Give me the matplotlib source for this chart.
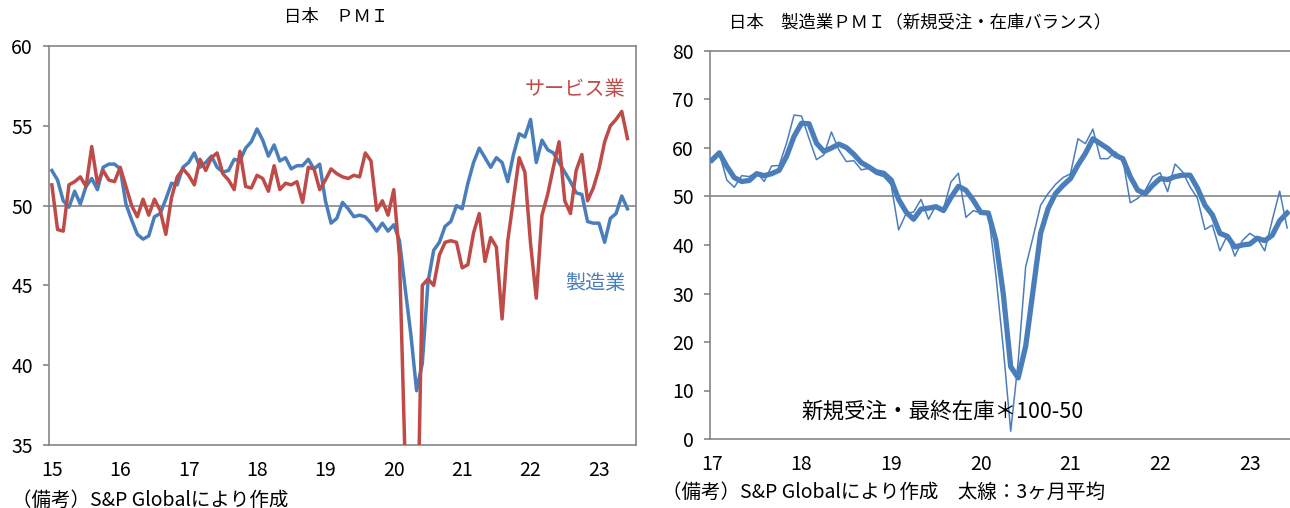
import numpy as np
import matplotlib.pyplot as plt

plt.rcParams['font.family'] = ['Noto Sans CJK JP', 'DejaVu Sans']

# 日本 PMI (2015/1 - 2023/6, monthly)
mfg_pmi = [
    52.2, 51.6, 50.3, 49.9, 50.9, 50.1, 51.2, 51.7, 51.0, 52.4, 52.6, 52.6,
    52.3, 50.1, 49.1, 48.2, 47.9, 48.1, 49.3, 49.5, 50.4, 51.4, 51.3, 52.4,
    52.7, 53.3, 52.4, 52.7, 53.1, 52.4, 52.1, 52.2, 52.9, 52.8, 53.6, 54.0,
    54.8, 54.1, 53.1, 53.8, 52.8, 53.0, 52.3, 52.5, 52.5, 52.9, 52.3, 52.6,
    50.3, 48.9, 49.2, 50.2, 49.8, 49.3, 49.4, 49.3, 48.9, 48.4, 48.9, 48.4,
    48.8, 47.8, 44.8, 41.9, 38.4, 40.1, 45.2, 47.2, 47.7, 48.7, 49.0, 50.0,
    49.8, 51.4, 52.7, 53.6, 53.0, 52.4, 53.0, 52.7, 51.5, 53.2, 54.5, 54.3,
    55.4, 52.7, 54.1, 53.5, 53.3, 52.7, 52.1, 51.5, 50.8, 50.7, 49.0, 48.9,
    48.9, 47.7, 49.2, 49.5, 50.6, 49.8,
]
svc_pmi = [
    51.3, 48.5, 48.4, 51.3, 51.5, 51.8, 51.2, 53.7, 51.4, 52.2, 51.6, 51.5,
    52.4, 51.2, 50.0, 49.3, 50.4, 49.4, 50.4, 49.7, 48.2, 50.5, 51.8, 52.3,
    51.9, 51.3, 52.9, 52.2, 53.0, 53.3, 52.0, 51.6, 51.0, 53.4, 51.2, 51.1,
    51.9, 51.7, 50.9, 52.5, 51.0, 51.4, 51.3, 51.5, 50.2, 52.4, 52.3, 51.0,
    51.6, 52.3, 52.0, 51.8, 51.7, 51.9, 51.8, 53.3, 52.8, 49.7, 50.3, 49.4,
    51.0, 46.8, 33.8, 21.5, 26.5, 45.0, 45.4, 45.0, 46.9, 47.7, 47.8, 47.7,
    46.1, 46.3, 48.3, 49.5, 46.5, 48.0, 47.4, 42.9, 47.8, 50.4, 53.0, 52.1,
    47.6, 44.2, 49.4, 50.7, 52.4, 54.0, 50.3, 49.5, 52.2, 53.2, 50.3, 51.1,
    52.3, 54.0, 55.0, 55.4, 55.9, 54.2,
]
pmi_years = ['15', '16', '17', '18', '19', '20', '21', '22', '23']

# 製造業 新規受注・在庫バランス (2017/1 - 2023/6)
bal_monthly = [
    57.6, 58.9, 53.4, 51.9, 54.3, 54.1, 55.0, 53.1, 56.3, 56.4, 61.0, 66.8,
    66.6, 62.0, 57.6, 58.6, 63.3, 59.6, 57.2, 57.4, 55.5, 55.8, 54.6, 54.1,
    52.4, 43.1, 46.5, 46.8, 49.4, 45.3, 48.2, 47.4, 53.0, 54.8, 45.7, 47.1,
    46.6, 46.6, 34.0, 18.8, 1.6, 16.0, 35.5, 41.7, 48.2, 50.6, 52.5, 53.9,
    54.7, 61.9, 60.9, 63.9, 57.8, 57.8, 59.2, 57.8, 48.7, 49.6, 51.3, 54.1,
    54.9, 51.0, 56.7, 55.1, 52.0, 49.6, 43.2, 44.1, 38.8, 42.0, 37.7, 40.9,
    42.4, 41.4, 38.8, 45.1, 51.1, 43.5,
]
bal_3mma = [
    57.5, 59.0, 56.2, 53.9, 53.1, 53.3, 54.7, 54.3, 54.7, 55.4, 58.3, 62.4,
    65.1, 65.0, 61.0, 59.3, 60.0, 60.8, 60.1, 58.7, 57.0, 56.1, 55.1, 54.8,
    53.4, 49.4, 46.8, 45.3, 47.4, 47.6, 47.9, 47.1, 49.8, 52.1, 51.3, 49.2,
    46.7, 46.6, 41.0, 30.0, 14.9, 12.6, 19.1, 30.7, 42.4, 47.5, 50.6, 52.3,
    53.7, 56.5, 58.9, 61.9, 60.9, 59.9, 58.5, 57.8, 54.1, 51.3, 50.6, 52.3,
    53.7, 53.5, 54.1, 54.4, 54.4, 51.7, 48.2, 46.2, 42.4, 41.8, 39.6, 40.0,
    40.2, 41.4, 40.9, 42.0, 45.0, 46.6,
]
bal_years = ['17', '18', '19', '20', '21', '22', '23']

BLUE = '#4a7ebb'
RED = '#be4b48'
GRAY = '#868686'

W, H = 1290, 508
fig = plt.figure(figsize=(W / 100, H / 100), dpi=100)


def px_axes(l, t, r, b):
    return fig.add_axes([l / W, 1 - b / H, (r - l) / W, (b - t) / H])


def style(ax):
    for s in ax.spines.values():
        s.set_color(GRAY)
        s.set_linewidth(1.2)
    ax.tick_params(axis='y', direction='out', length=4.5, width=1.2,
                   color=GRAY, pad=7, labelsize=14)
    ax.tick_params(axis='x', length=0, pad=11, labelsize=14)
    ax.axhline(50, color=GRAY, lw=1.2, zorder=1)


# left: PMI
ax1 = px_axes(49, 46, 636, 445)
x1 = np.arange(len(mfg_pmi))
ax1.plot(x1, mfg_pmi, color=BLUE, lw=2.5, zorder=3)
ax1.plot(x1, svc_pmi, color=RED, lw=2.5, zorder=4)
ax1.set_xlim(-0.5, 102.5)
ax1.set_ylim(35, 60)
ax1.set_yticks(range(35, 61, 5))
ax1.set_xticks(np.arange(len(pmi_years)) * 12)
ax1.set_xticklabels(pmi_years)
style(ax1)
ax1.text(100.6, 57.3, 'サービス業', color=RED, fontsize=14.5,
         ha='right', va='center')
ax1.text(100.7, 45.1, '製造業', color=BLUE, fontsize=14.5,
         ha='right', va='center')

# right: new orders / inventory balance
ax2 = px_axes(710, 51, 1292, 439)
x2 = np.arange(len(bal_monthly))
ax2.plot(x2, bal_monthly, color=BLUE, lw=1.1, zorder=3)
ax2.plot(x2, bal_3mma, color=BLUE, lw=3.8, zorder=4,
         solid_joinstyle='round')
ax2.set_xlim(-0.25, 77.65)
ax2.set_ylim(0, 80)
ax2.set_yticks(range(0, 81, 10))
ax2.set_xticks(np.arange(len(bal_years)) * 12)
ax2.set_xticklabels(bal_years)
style(ax2)
ax2.spines['right'].set_visible(False)
ax2.text(12.0, 5.6, '新規受注・最終在庫＊100-50', fontsize=15.5,
         ha='left', va='center')

fig.text(336 / W, 1 - 17 / H, '日本　ＰＭＩ', fontsize=12.5,
         ha='center', va='center')
fig.text(920 / W, 1 - 22 / H, '日本　製造業ＰＭＩ（新規受注・在庫バランス）',
         fontsize=12.5, ha='center', va='center')
fig.text(12 / W, 1 - 500 / H, '（備考）S&P Globalにより作成', fontsize=14,
         ha='left', va='center')
fig.text(662 / W, 1 - 492 / H,
         '（備考）S&P Globalにより作成　太線：3ヶ月平均', fontsize=14,
         ha='left', va='center')

fig.savefig('out.png', dpi=100)
